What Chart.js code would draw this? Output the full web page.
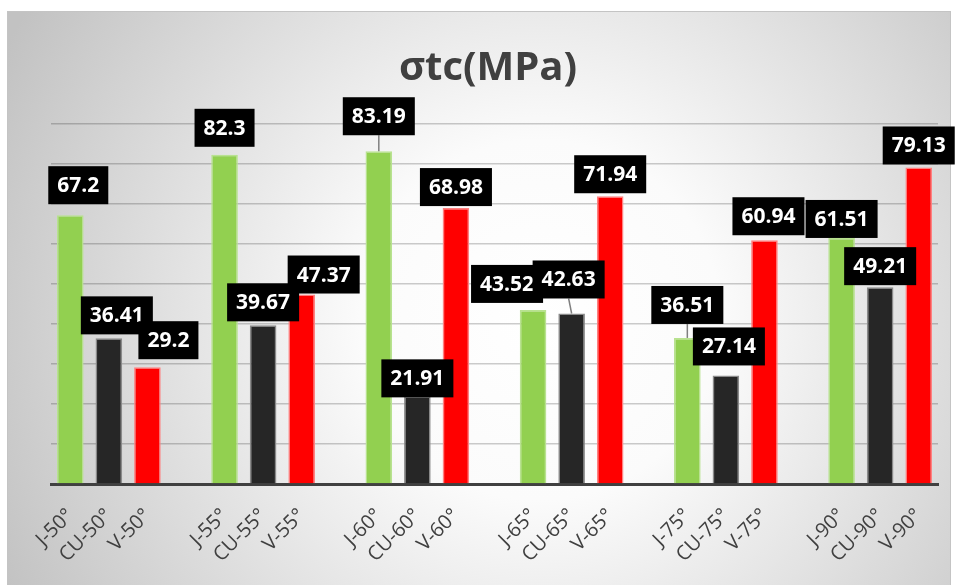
<!DOCTYPE html>
<html>
<head>
<meta charset="utf-8">
<script src="https://cdn.jsdelivr.net/npm/chart.js@4.4.0/dist/chart.umd.min.js"></script>
<style>
  body { margin: 0; background: #fff; }
  #chartCont { width: 958px; height: 585px; }
</style>
</head>
<body>
<div id="chartCont"><canvas id="myChart" width="958" height="585"></canvas></div>
<script>
const chartTitle = "σtc(MPa)";
const angles = ["50°", "55°", "60°", "65°", "75°", "90°"];
const jValues = [67.2, 82.3, 83.19, 43.52, 36.51, 61.51];
const cuValues = [36.41, 39.67, 21.91, 42.63, 27.14, 49.21];
const vValues = [29.2, 47.37, 68.98, 71.94, 60.94, 79.13];

// label nudges [dx, gap above bar], labels were moved by hand in the original
const jShift = [[8, 11], [0, 8], [0, 16], [-26, 7], [0, 14], [0, 0]];
const cuShift = [[8, 4], [0, 4], [0, -1], [-3, 15], [3, 10], [0, 2]];
const vShift = [[21, 8], [22, 1], [0, 2], [0, 3], [4, 5], [0, 3]];

// 4 slots per angle (J, CU, V, gap), last gap dropped
let labels = [];
let jData = [], cuData = [], vData = [];
angles.forEach((a, i) => {
  labels.push("J-" + a, "CU-" + a, "V-" + a);
  jData.push(jValues[i], null, null);
  cuData.push(null, cuValues[i], null);
  vData.push(null, null, vValues[i]);
  if (i < angles.length - 1) {
    labels.push("");
    jData.push(null); cuData.push(null); vData.push(null);
  }
});

const bgPlugin = {
  id: "bg",
  beforeDraw(chart) {
    const ctx = chart.ctx;
    ctx.save();
    ctx.fillStyle = "#fff";
    ctx.fillRect(0, 0, chart.width, chart.height);
    const g = ctx.createRadialGradient(540, 320, 0, 540, 320, 600);
    g.addColorStop(0, "#ffffff");
    g.addColorStop(0.3, "#fbfbfb");
    g.addColorStop(1, "#c2c2c2");
    ctx.fillStyle = g;
    ctx.fillRect(7, 11, 944, 574);
    ctx.strokeStyle = "#c4c4c4";
    ctx.lineWidth = 1;
    ctx.strokeRect(7.5, 11.5, 943, 574);
    // title
    ctx.fillStyle = "#404040";
    ctx.font = "bold 40px 'Open Sans'";
    ctx.textAlign = "center";
    ctx.textBaseline = "alphabetic";
    ctx.fillText(chartTitle, 488, 80);
    ctx.restore();
  },
};

const labelPlugin = {
  id: "boxLabels",
  afterDatasetsDraw(chart) {
    const ctx = chart.ctx;
    const shifts = [jShift, cuShift, vShift];
    ctx.save();
    ctx.font = "bold 21px 'Open Sans'";
    ctx.textAlign = "center";
    ctx.textBaseline = "middle";
    chart.data.datasets.forEach((ds, di) => {
      const meta = chart.getDatasetMeta(di);
      let k = 0;
      ds.data.forEach((v, idx) => {
        if (v === null) return;
        const bar = meta.data[idx];
        const s = shifts[di][k++];
        const txt = String(v);
        const w = ctx.measureText(txt).width + 18;
        const h = 38;
        const cx = bar.x + s[0];
        const bottom = bar.y - s[1];
        if (s[1] > 12) {
          ctx.strokeStyle = "#7f7f7f";
          ctx.lineWidth = 1.5;
          ctx.beginPath();
          ctx.moveTo(cx, bottom);
          ctx.lineTo(bar.x, bar.y);
          ctx.stroke();
        }
        ctx.fillStyle = "#000";
        ctx.fillRect(cx - w / 2, bottom - h, w, h);
        ctx.fillStyle = "#fff";
        ctx.fillText(txt, cx, bottom - h / 2 + 1);
      });
    });
    ctx.restore();
  },
};

const ctx = document.getElementById("myChart");

const chart = new Chart(ctx, {
  type: "bar",
  data: {
    labels: labels,
    datasets: [
      { label: "J", data: jData, backgroundColor: "#92d050", borderColor: "#b8e290", borderWidth: 1.5 },
      { label: "CU", data: cuData, backgroundColor: "#262626", borderColor: "#8a8a8a", borderWidth: 1.5 },
      { label: "V", data: vData, backgroundColor: "#ff0000", borderColor: "#ff8080", borderWidth: 1.5 },
    ],
  },
  options: {
    responsive: false,
    animation: false,
    maintainAspectRatio: false,
    grouped: false,
    barPercentage: 0.69,
    categoryPercentage: 1,
    layout: { padding: { left: 51, right: 20, top: 124, bottom: 0 } },
    scales: {
      x: {
        grid: { display: false, drawTicks: false },
        border: { color: "#404040", width: 3 },
        ticks: {
          autoSkip: false,
          minRotation: 45,
          maxRotation: 45,
          padding: 20,
          color: "#404040",
          font: { family: "'Open Sans'", size: 20 },
        },
        afterFit(scale) { scale.height = 101; },
      },
      y: {
        min: 0,
        max: 90,
        ticks: { display: false, stepSize: 10 },
        grid: { color: "rgba(0,0,0,0.2)", lineWidth: 1.5, drawTicks: false },
        border: { display: false },
        afterFit(scale) { scale.width = 0; },
      },
    },
    plugins: {
      legend: { display: false },
      tooltip: { enabled: false },
      title: { display: false },
    },
  },
  plugins: [bgPlugin, labelPlugin],
});
</script>
</body>
</html>
